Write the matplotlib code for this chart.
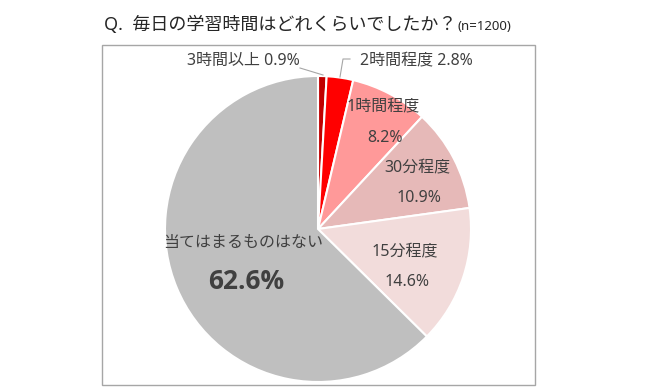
import matplotlib
matplotlib.use('Agg')
import matplotlib.pyplot as plt
from matplotlib.patches import Rectangle

plt.rcParams['font.family'] = ['Noto Sans', 'Noto Sans CJK JP', 'DejaVu Sans']

# ── data ────────────────────────────────────────────────────────────────────
categories = ['3時間以上', '2時間程度', '1時間程度', '30分程度', '15分程度',
              '当てはまるものはない']
shares = [0.9, 2.8, 8.2, 10.9, 14.6, 62.6]
colors = ['#C00000', '#FF0000', '#FF9999', '#E6B9B8', '#F2DCDB', '#BFBFBF']

TITLE = 'Q.  毎日の学習時間はどれくらいでしたか？'
N_NOTE = '(n=1200)'

W, H = 645, 388
CX, CY, R = 318, 229, 153   # pie centre / radius in pixels (from top)
TXT = '#404040'


def px(x, y):
    """pixel position (from top-left) -> pie data units"""
    return (x - CX) / R, (CY - y) / R


fig = plt.figure(figsize=(W / 100, H / 100), dpi=100)
ax = fig.add_axes([0, 0, 1, 1])

ax.pie(shares, colors=colors, startangle=90, counterclock=False,
       radius=1, center=(0, 0),
       wedgeprops=dict(edgecolor='white', linewidth=1.5))

# pie() resets the view, so fix the limits afterwards
ax.set_xlim(-CX / R, (W - CX) / R)
ax.set_ylim((CY - H) / R, CY / R)
ax.set_aspect('equal')
ax.axis('off')

# chart frame
fig.patches.append(Rectangle((102 / W, 1 - 385 / H), 433 / W, 340 / H,
                             transform=fig.transFigure, fill=False,
                             edgecolor='#A6A6A6', linewidth=1))

lab = dict(fontsize=11.5, color=TXT, va='center')

# small slices with leader lines
ax.text(*px(300, 61), f'{categories[0]} {shares[0]}%', ha='right', **lab)
ax.plot(*zip(px(300, 68), px(323, 75)), color='#A6A6A6', lw=0.8)
ax.text(*px(360, 61), f'{categories[1]} {shares[1]}%', ha='left', **lab)
ax.plot(*zip(px(340, 77), px(343, 59), px(350, 59)), color='#A6A6A6', lw=0.8)

# inside labels
inner = [(2, 383, 107, 385, 138),
         (3, 417, 168, 419, 198),
         (4, 405, 252, 407, 282)]
for i, x1, y1, x2, y2 in inner:
    ax.text(*px(x1, y1), categories[i], ha='center', **lab)
    ax.text(*px(x2, y2), f'{shares[i]}%', ha='center', **lab)

ax.text(*px(243, 243), categories[5], ha='center', **lab)
ax.text(*px(246, 282), f'{shares[5]}%', ha='center', va='center',
        fontsize=19, fontweight='bold', color=TXT,
        family=['Open Sans', 'DejaVu Sans'])

# title
fig.text(104 / W, 1 - 25 / H, TITLE, fontsize=13, color='#262626',
         va='center', ha='left')
fig.text(458 / W, 1 - 26 / H, N_NOTE, fontsize=9.5, color='#262626',
         va='center', ha='left')

fig.savefig('out.png', dpi=100)
